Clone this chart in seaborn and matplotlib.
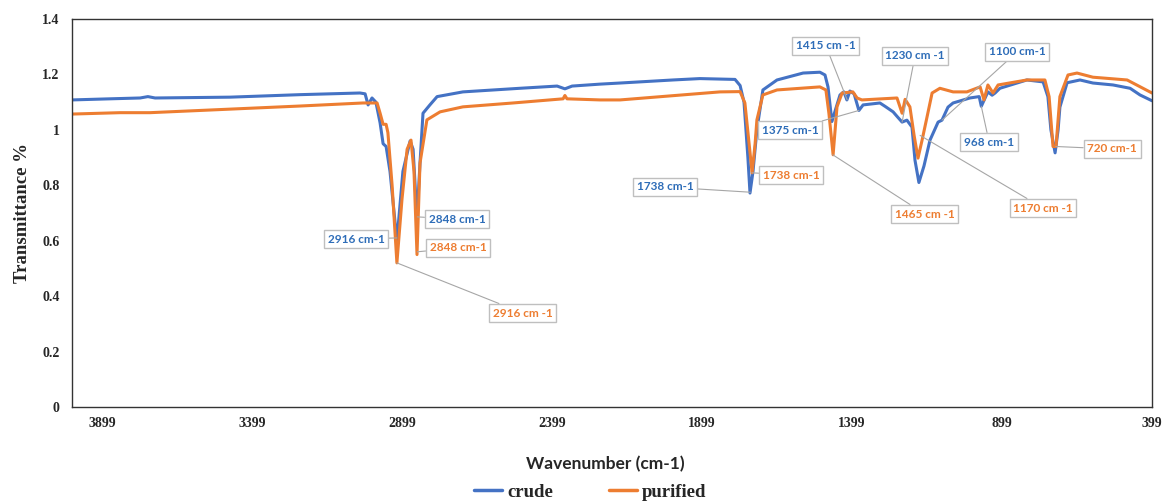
import numpy as np
import pandas as pd
import matplotlib
matplotlib.use("Agg")
import matplotlib.pyplot as plt
import seaborn as sns

# ---------------- data ----------------
crude_wn = [3999, 3872, 3772, 3746, 3722, 3472, 3239, 3039, 3022, 3012, 2999, 2986,
            2972, 2962, 2952, 2939, 2916, 2896, 2872, 2862, 2849, 2839, 2829, 2806,
            2782, 2696, 2506, 2382, 2356, 2332, 2239, 2172, 1996, 1906, 1789, 1772,
            1759, 1746, 1739, 1729, 1716, 1696, 1649, 1562, 1506, 1489, 1479, 1466,
            1452, 1439, 1426, 1416, 1406, 1392, 1376, 1362, 1306, 1289, 1262, 1246,
            1232, 1216, 1199, 1189, 1176, 1159, 1139, 1112, 1099, 1079, 1062, 1006,
            975, 968, 946, 932, 922, 906, 816, 762, 746, 736, 722, 712, 706, 682,
            639, 596, 529, 472, 439, 399]
crude_t = [1.108, 1.112, 1.115, 1.120, 1.115, 1.118, 1.127, 1.133, 1.130, 1.090, 1.115, 1.100,
           1.025, 0.950, 0.940, 0.850, 0.600, 0.850, 0.960, 0.930, 0.680, 0.880, 1.060, 1.090,
           1.120, 1.137, 1.150, 1.158, 1.148, 1.158, 1.165, 1.169, 1.180, 1.185, 1.182, 1.160,
           1.100, 0.900, 0.772, 0.850, 1.000, 1.144, 1.180, 1.205, 1.208, 1.198, 1.155, 1.030,
           1.080, 1.126, 1.137, 1.108, 1.140, 1.130, 1.070, 1.090, 1.097, 1.085, 1.065, 1.045,
           1.028, 1.035, 1.010, 0.890, 0.810, 0.870, 0.963, 1.028, 1.035, 1.082, 1.097, 1.115,
           1.120, 1.085, 1.137, 1.125, 1.133, 1.150, 1.180, 1.173, 1.120, 1.000, 0.917, 1.000, 1.082, 1.170,
           1.180, 1.169, 1.162, 1.150, 1.126, 1.105]

purified_wn = [3999, 3839, 3739, 3572, 3239, 3029, 2982, 2972, 2962, 2952, 2946, 2932,
               2916, 2899, 2882, 2869, 2859, 2849, 2839, 2816, 2772, 2696, 2529, 2362,
               2356, 2349, 2239, 2172, 1839, 1772, 1756, 1742, 1732, 1722, 1716, 1696,
               1649, 1506, 1486, 1476, 1462, 1449, 1432, 1396, 1382, 1366, 1249, 1232,
               1222, 1206, 1192, 1179, 1166, 1149, 1132, 1106, 1062, 1016, 972, 959,
               946, 929, 912, 816, 756, 742, 729, 719, 706, 679, 649, 596, 482, 429, 399]
purified_t = [1.057, 1.062, 1.062, 1.070, 1.086, 1.097, 1.097, 1.060, 1.020, 1.020, 0.990, 0.800,
              0.520, 0.750, 0.930, 0.963, 0.850, 0.550, 0.880, 1.036, 1.065, 1.083, 1.097, 1.112,
              1.124, 1.112, 1.108, 1.108, 1.137, 1.138, 1.097, 0.950, 0.845, 0.950, 1.036, 1.126,
              1.144, 1.155, 1.144, 1.060, 0.910, 1.083, 1.133, 1.137, 1.115, 1.108, 1.115, 1.060,
              1.110, 1.083, 0.980, 0.898, 0.960, 1.046, 1.133, 1.150, 1.137, 1.137, 1.155, 1.108,
              1.162, 1.133, 1.162, 1.180, 1.180, 1.120, 0.940, 0.940, 1.120, 1.198, 1.205, 1.190,
              1.180, 1.150, 1.133]

series_names = ["crude", "purified"]
x_ticks = [3899, 3399, 2899, 2399, 1899, 1399, 899, 399]
y_ticks = [0, 0.2, 0.4, 0.6, 0.8, 1, 1.2, 1.4]
y_tick_labels = ["0", "0.2", "0.4", "0.6", "0.8", "1", "1.2", "1.4"]

# annotations: text, series, pointed wavenumber/value, label wavenumber/value
ann_text = ["2916 cm-1", "2848 cm-1", "1738 cm-1", "1415 cm -1", "1375 cm-1", "1230 cm -1",
            "1100 cm-1", "968 cm-1",
            "2916 cm -1", "2848 cm-1", "1738 cm-1", "1465 cm -1", "1170 cm -1", "720 cm-1"]
ann_series = ["crude"] * 8 + ["purified"] * 6
ann_px = [2916, 2848, 1738, 1415, 1376, 1232, 1099, 968,
          2916, 2848, 1733, 1463, 1172, 720]
ann_py = [0.61, 0.686, 0.775, 1.108, 1.07, 1.028, 1.035, 1.085,
          0.52, 0.56, 0.845, 0.91, 0.98, 0.94]
ann_lx = [3052, 2716, 2022, 1486, 1606, 1189, 849, 942,
          2496, 2712, 1602, 1156, 762, 532]
ann_ly = [0.606, 0.678, 0.794, 1.303, 0.999, 1.267, 1.281, 0.956,
          0.339, 0.574, 0.837, 0.696, 0.718, 0.931]

# ---------------- figure ----------------
sns.set_style("white")
plt.rcParams["font.family"] = ["Liberation Serif", "DejaVu Sans"]

colors = {"crude": "#4472C4", "purified": "#ED7D31"}
text_colors = {"crude": "#2E6DB8", "purified": "#ED7D31"}

fig = plt.figure(figsize=(11.66, 5.03), dpi=100)
ax = fig.add_axes([72 / 1166, 96 / 503, 1080 / 1166, 388 / 503])

df_c = pd.DataFrame({"wn": crude_wn, "T": crude_t})
df_p = pd.DataFrame({"wn": purified_wn, "T": purified_t})
sns.lineplot(data=df_c, x="wn", y="T", ax=ax, color=colors["crude"], lw=2.2,
             label="crude", sort=False, estimator=None)
sns.lineplot(data=df_p, x="wn", y="T", ax=ax, color=colors["purified"], lw=2.2,
             label="purified", sort=False, estimator=None)

ax.set_xlim(3999, 399)
ax.set_ylim(0, 1.4)
ax.set_xticks(x_ticks)
ax.set_xticklabels([str(t) for t in x_ticks], fontweight="bold", fontsize=10)
ax.set_yticks(y_ticks)
ax.set_yticklabels(y_tick_labels, fontweight="bold", fontsize=10)
ax.tick_params(axis="x", length=0, pad=7)
ax.tick_params(axis="y", length=0, pad=9)
for s in ax.spines.values():
    s.set_color("#333333")
    s.set_linewidth(1.0)
    s.set_visible(True)

ax.set_xlabel("Wavenumber (cm-1)", family=["Lato", "DejaVu Sans"], fontweight="bold",
              fontsize=12.5, labelpad=19)
ax.xaxis.label.set_x(0.494)
ax.set_ylabel("Transmittance %", fontweight="bold", fontsize=13.5, labelpad=8)

for t, s, px, py, lx, ly in zip(ann_text, ann_series, ann_px, ann_py, ann_lx, ann_ly):
    ax.annotate(t, xy=(px, py), xytext=(lx, ly), textcoords="data",
                ha="center", va="center", fontsize=8.5, fontweight="bold",
                family=["Lato", "DejaVu Sans"], color=text_colors[s],
                bbox=dict(boxstyle="square,pad=0.3", fc="white", ec="#BFBFBF", lw=1.0),
                arrowprops=dict(arrowstyle="-", color="#A6A6A6", lw=0.8,
                                shrinkA=0, shrinkB=0),
                zorder=5)

leg = ax.legend(loc="center", bbox_to_anchor=(0.48, -0.219),
                ncol=2, frameon=False, handlelength=1.5, columnspacing=3.0,
                handletextpad=0.25,
                prop={"family": "Liberation Serif", "weight": "bold", "size": 13.5})
for line in leg.get_lines():
    line.set_linewidth(2.5)

fig.savefig("out.png", dpi=100)
